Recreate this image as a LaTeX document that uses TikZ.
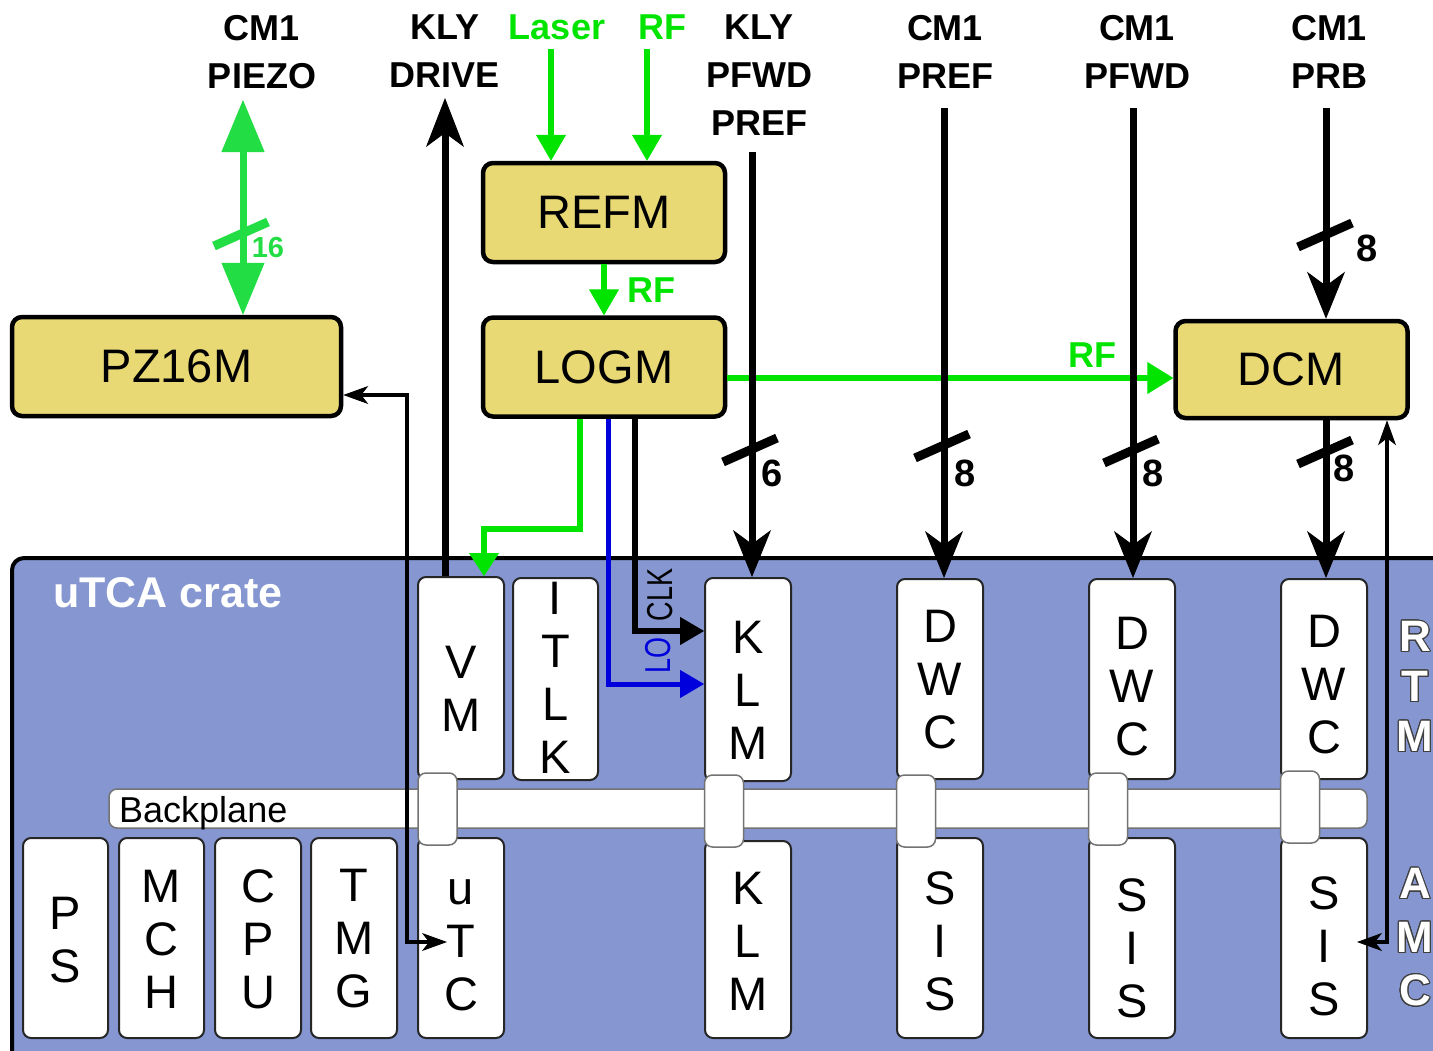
\documentclass[tikz,border=0pt]{standalone}
\usepackage{fontspec}
\setmainfont{Liberation Sans}
\usepackage[copies]{contour}
\contourlength{1.1pt}
\contournumber{24}
\usetikzlibrary{arrows.meta}

\definecolor{boxyellow}{RGB}{232,217,117}
\definecolor{crateblue}{RGB}{133,150,208}
\definecolor{sigreen}{RGB}{0,228,0}
\definecolor{pzgreen}{RGB}{34,221,68}
\definecolor{loblue}{RGB}{0,0,220}
\newcommand\myfs[2]{\fontsize{#1}{#2}\selectfont}
\newcommand\mkmodule[7]{%
  \node[modbox, minimum width=#4pt, minimum height=#5pt] (#1) at (#2,#3) {};
  \node[modtxt] (#1-t) at (#2,#6) {#7};}
\newcommand\mktick[3]{\draw[line width=9pt, #3] (#1,#2) ++(-27,12) -- ++(54,-24);}
\newcommand\outl[1]{\contour{black!75}{#1}}

\begin{document}
\begin{tikzpicture}[x=1pt,y=-1pt,
  toplbl/.style={font=\myfs{36}{48}\bfseries, align=center, inner sep=0pt, anchor=north},
  ybox/.style={draw=black, line width=4.5pt, fill=boxyellow, rounded corners=10pt, font=\myfs{47}{50}, inner sep=0pt},
  modbox/.style={draw=black!85, line width=2pt, fill=white, rounded corners=8pt, inner sep=0pt},
  modtxt/.style={font=\myfs{47}{53}, align=center, inner sep=0pt},
  conn/.style={draw=black!55, line width=1.5pt, fill=white, rounded corners=8pt, minimum width=39pt, minimum height=72pt, inner sep=0pt},
  sigline/.style={draw=black, line width=7pt, -{Stealth[length=47pt,width=38pt,inset=14pt,line width=1pt]}},
  garrow/.style={draw=sigreen, line width=6pt, -{Triangle[length=26pt,width=30pt,line width=1pt]}},
  thinarrows/.style={draw=black, line width=3.5pt, {Stealth[length=25pt,width=18pt,inset=7pt,line width=1pt]}-{Stealth[length=25pt,width=18pt,inset=7pt,line width=1pt]}},
  grnlbl/.style={font=\myfs{36}{36}\bfseries, text=sigreen, inner sep=0pt},
  numlbl/.style={font=\myfs{38}{38}\bfseries, inner sep=0pt},
  sidelbl/.style={font=\myfs{44}{50}\bfseries, text=white, align=center, inner sep=0pt}
]
\clip (0,0) rectangle (1433,1050);
\fill[white] (0,0) rectangle (1433,1050);

% crate
\path[draw=black, line width=4pt, fill=crateblue, rounded corners=12pt] (12,558) rectangle (1470,1090);
\node[font=\myfs{43}{43}\bfseries, text=white, anchor=base west, inner sep=0pt] (title) at (53,607) {uTCA crate};

% backplane
\node[draw=black!55, line width=1.5pt, fill=white, rounded corners=8pt, minimum width=1258pt, minimum height=39pt, inner sep=0pt] (bp) at (738,808.5) {};
\node[font=\myfs{36}{36}, anchor=base west, inner sep=0pt] (bpl) at (119,822) {Backplane};

% upper modules
\mkmodule{vm}{461}{678}{86}{202}{689}{V\\M}
\mkmodule{itlk}{555.5}{679}{85}{202}{678}{I\\T\\L\\K}
\mkmodule{klmU}{748}{679.5}{86}{203}{690}{K\\L\\M}
\mkmodule{dwcA}{940}{679}{86}{200}{680}{D\\W\\C}
\mkmodule{dwcB}{1132}{679}{86}{200}{687}{D\\W\\C}
\mkmodule{dwcC}{1324}{679}{86}{200}{685}{D\\W\\C}
% lower modules
\mkmodule{ps}{65.5}{938}{85}{200}{940}{P\\S}
\mkmodule{mch}{161.5}{938}{85}{200}{939}{M\\C\\H}
\mkmodule{cpu}{258}{938}{86}{200}{939}{C\\P\\U}
\mkmodule{tmg}{354}{938}{86}{200}{939}{T\\M\\G}
\mkmodule{utc}{461}{938}{86}{200}{945}{u\\T\\C}
\mkmodule{klmL}{748}{939.5}{86}{197}{941}{K\\L\\M}
\mkmodule{sisA}{940}{938}{86}{200}{941}{S\\I\\S}
\mkmodule{sisB}{1132}{938}{86}{200}{948}{S\\I\\S}
\mkmodule{sisC}{1324}{938}{86}{200}{946}{S\\I\\S}

% connectors
\node[conn] (cvm) at (437.5,809) {};
\node[conn] (cklm) at (724,811) {};
\node[conn] (cdA) at (916,811) {};
\node[conn] (cdB) at (1108,809) {};
\node[conn] (cdC) at (1300,807) {};

% RTM / AMC
\node[sidelbl] (rtm) at (1415,687) {\outl{R}\\\outl{T}\\\outl{M}};
\node[sidelbl, font=\myfs{44}{53.5}\bfseries] (amc) at (1415,938) {\outl{A}\\\outl{M}\\\outl{C}};

% yellow boxes
\node[ybox, minimum width=329pt, minimum height=99pt] (pz16m) at (176.5,366.5) {PZ16M};
\node[ybox, minimum width=242pt, minimum height=99pt] (refm) at (604,212.5) {REFM};
\node[ybox, minimum width=242pt, minimum height=99pt] (logm) at (604,367) {LOGM};
\node[ybox, minimum width=232pt, minimum height=97pt] (dcm) at (1291.5,369.5) {DCM};

% top labels
\node[toplbl] (lpiezo) at (262,15) {CM1\\PIEZO};
\node[toplbl] (ldrive) at (445,15) {KLY\\DRIVE};
\node[toplbl, text=sigreen] (llaser) at (557,15) {Laser};
\node[toplbl, text=sigreen] (lrf) at (662,15) {RF};
\node[toplbl] (lkly) at (759,15) {KLY\\PFWD\\PREF};
\node[toplbl] (lpref) at (945,15) {CM1\\PREF};
\node[toplbl] (lpfwd) at (1137,15) {CM1\\PFWD};
\node[toplbl] (lprb) at (1329,15) {CM1\\PRB};

% coordinates
\coordinate (pzTop) at (243,100);
\coordinate (driveTop) at (445,98);
\coordinate (laserTop) at (551,49);
\coordinate (rfTop) at (647,49);
\coordinate (klyTop) at (752,152);
\coordinate (prefTop) at (944,108);
\coordinate (pfwdTop) at (1133,108);
\coordinate (prbTop) at (1326,108);
\coordinate (rfy) at (0,378);
\coordinate (gDown) at (580,529);
\coordinate (gX) at (484,0);
\coordinate (loX) at (608,684);
\coordinate (clkX) at (635,631);
\coordinate (pzRet) at (407,395);
\coordinate (utcIn) at (447,942);
\coordinate (amcX) at (1387,942);
\coordinate (sisIn) at (1357,942);

% connectors (arrows)
\draw[draw=pzgreen, line width=7pt, {Triangle[length=52pt,width=43pt,line width=1pt]}-{Triangle[length=52pt,width=43pt,line width=1pt]}] (pzTop) -- (pzTop |- pz16m.north);
\draw[draw=black, line width=7pt, -{Stealth[length=49pt,width=38pt,inset=14pt,line width=1pt]}] (vm.north -| driveTop) -- (driveTop);
\draw[garrow] (laserTop) -- (laserTop |- refm.north);
\draw[garrow] (rfTop) -- (rfTop |- refm.north);
\draw[garrow] (refm.south) -- (logm.north);
\draw[garrow, -{Triangle[length=26pt,width=32pt,line width=1pt]}] (logm.east |- rfy) -- (dcm.west |- rfy);
\draw[draw=sigreen, line width=6pt, -{Triangle[length=23pt,width=30pt,line width=1pt]}] (logm.south -| gDown) -- (gDown) -| (vm.north -| gX);
\draw[draw=loblue, line width=5pt, -{Triangle[length=24pt,width=28pt,line width=1pt]}] (logm.south -| loX) |- (klmU.west |- loX);
\draw[draw=black, line width=6pt, -{Triangle[length=24pt,width=28pt,line width=1pt]}] (logm.south -| clkX) |- (klmU.west |- clkX);
\draw[sigline] (klyTop) -- (klyTop |- klmU.north);
\draw[sigline] (prefTop) -- (prefTop |- dwcA.north);
\draw[sigline] (pfwdTop) -- (pfwdTop |- dwcB.north);
\draw[sigline] (prbTop) -- (prbTop |- dcm.north);
\draw[sigline] (dcm.south -| prbTop) -- (prbTop |- dwcC.north);
\draw[thinarrows] (pz16m.east |- pzRet) -- (pzRet) |- (utcIn);
\draw[thinarrows] (sisIn) -- (amcX) -- (amcX |- dcm.south);

% bus ticks
\mktick{241}{234}{draw=pzgreen}
\mktick{1325}{235}{draw=black}
\mktick{750}{450}{draw=black}
\mktick{942}{446}{draw=black}
\mktick{1131}{451}{draw=black}
\mktick{1325}{452}{draw=black}

% labels
\node[font=\myfs{29}{29}\bfseries, text=pzgreen, inner sep=0pt] (n16) at (268,248) {16};
\node[numlbl] (n8a) at (1367,248) {8};
\node[numlbl] (n6) at (772,473) {6};
\node[numlbl] (n8b) at (965,473) {8};
\node[numlbl] (n8c) at (1153,473) {8};
\node[numlbl] (n8d) at (1344,468) {8};
\node[grnlbl] (rf2) at (651,290) {RF};
\node[grnlbl] (rf3) at (1092,355) {RF};
\node[rotate=90, font=\myfs{36}{36}, inner sep=0pt] (clk) at (660,595) {\scalebox{0.75}[1]{CLK}};
\node[rotate=90, font=\myfs{36}{36}, text=loblue, inner sep=0pt] (lo) at (658,655) {\scalebox{0.75}[1]{LO}};
\end{tikzpicture}
\end{document}
